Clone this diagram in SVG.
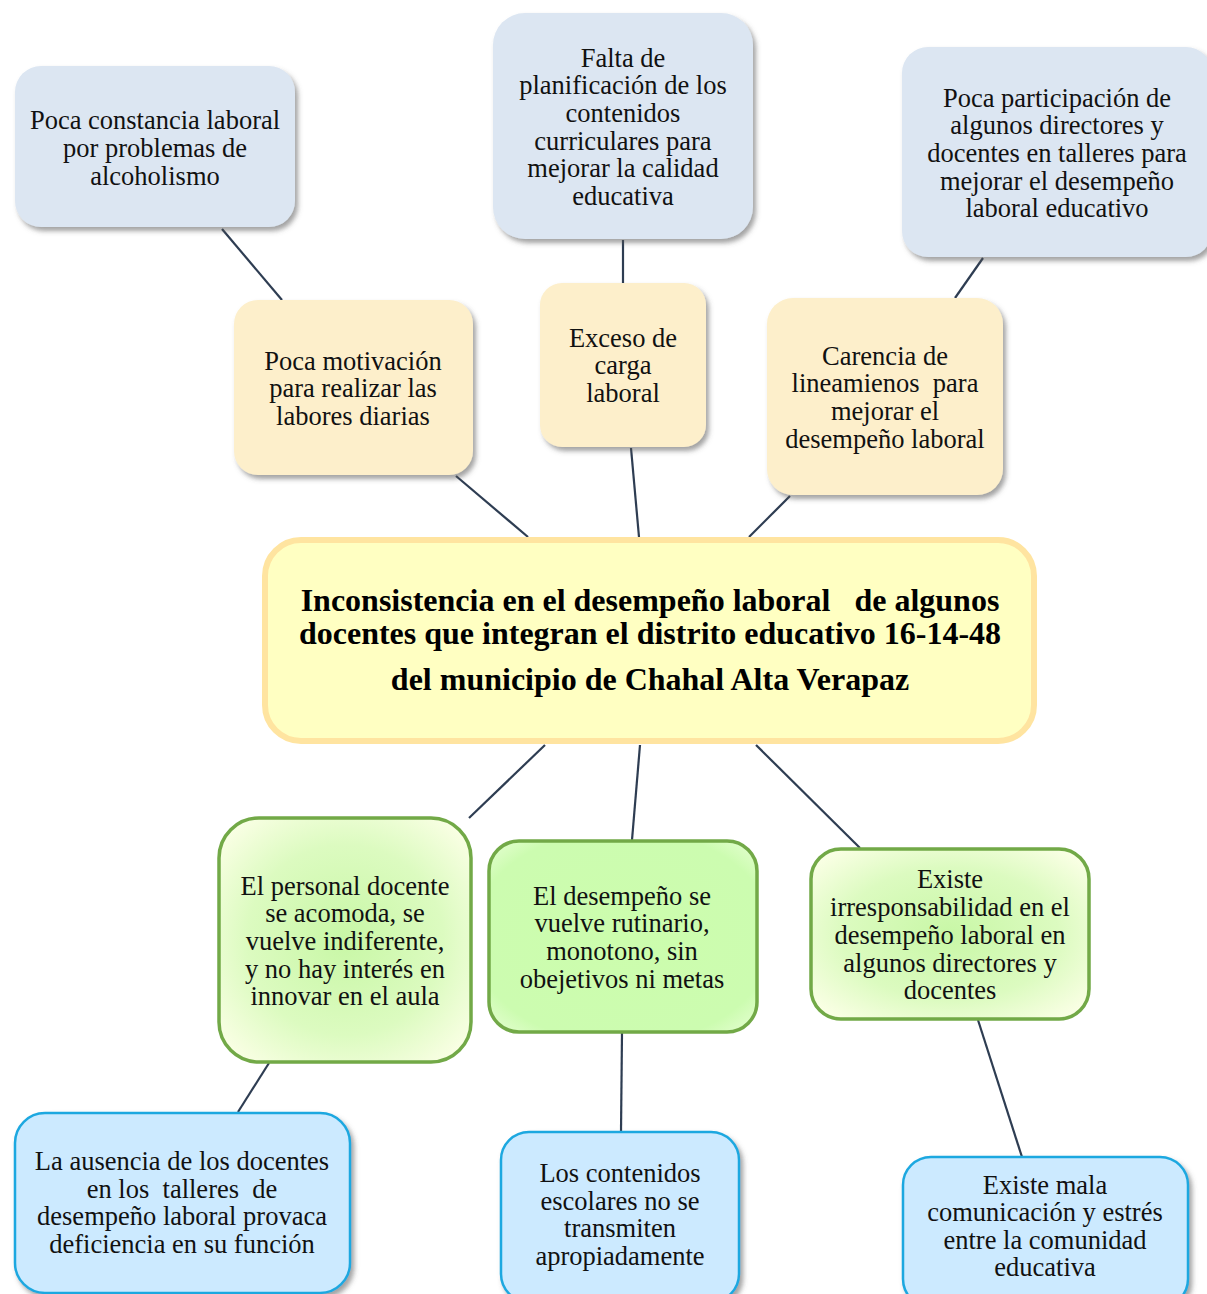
<svg xmlns="http://www.w3.org/2000/svg" width="1207" height="1294" viewBox="0 0 1207 1294" xml:space="preserve">
  <style>
    .t { font-family: "Liberation Serif", "Times New Roman", serif; font-size: 26.5px; fill: #111; text-anchor: middle; white-space: pre; }
    .title { font-family: "Liberation Serif", "Times New Roman", serif; font-size: 32px; font-weight: bold; fill: #000; text-anchor: middle; white-space: pre; }
    .cause { fill: #dce6f2; filter: url(#shadow); }
    .sub { fill: #fdefcb; filter: url(#shadow); }
    .main { fill: #ffffc2; stroke: #ffe4a0; stroke-width: 6; }
    .effect { stroke: #72a947; stroke-width: 3.5; }
    .cons { fill: #cceaff; stroke: #1fa8e0; stroke-width: 2.5; filter: url(#shadow); }
    .link { stroke: #2e3d52; stroke-width: 2.2; fill: none; }
  </style>
  <defs>
    <filter id="shadow" x="-10%" y="-10%" width="125%" height="130%">
      <feDropShadow dx="3" dy="4" stdDeviation="2.5" flood-color="#555" flood-opacity="0.55"/>
    </filter>
    <radialGradient id="greenSoft" cx="50%" cy="50%" r="65%">
      <stop offset="0" stop-color="#c8f7a6"/>
      <stop offset="0.6" stop-color="#dcfbc0"/>
      <stop offset="1" stop-color="#fbffe6"/>
    </radialGradient>
    <radialGradient id="greenSolid" cx="50%" cy="50%" r="75%">
      <stop offset="0" stop-color="#ccfdad"/>
      <stop offset="0.75" stop-color="#ccfcb0"/>
      <stop offset="1" stop-color="#f0ffe0"/>
    </radialGradient>
  </defs>

  <rect width="1207" height="1294" fill="#ffffff"/>

  <!-- connectors -->
  <g id="connectors">
    <line class="link" x1="222" y1="229" x2="282" y2="300"/>
    <line class="link" x1="623" y1="240" x2="623" y2="283"/>
    <line class="link" x1="983" y1="258" x2="955" y2="298"/>
    <line class="link" x1="456" y1="476" x2="528" y2="537"/>
    <line class="link" x1="631" y1="448" x2="639" y2="537"/>
    <line class="link" x1="790" y1="496" x2="749" y2="537"/>
    <line class="link" x1="545" y1="745" x2="469" y2="818"/>
    <line class="link" x1="640" y1="745" x2="632" y2="840"/>
    <line class="link" x1="756" y1="745" x2="860" y2="848"/>
    <line class="link" x1="269" y1="1063" x2="238" y2="1112"/>
    <line class="link" x1="622" y1="1033" x2="621" y2="1131"/>
    <line class="link" x1="978" y1="1020" x2="1022" y2="1157"/>
  </g>

  <!-- upper causes -->
  <g id="cause-alcoholismo">
    <rect class="cause" x="15" y="66" width="280" height="161" rx="26"/>
    <text class="t" x="155" y="129">Poca constancia laboral</text>
    <text class="t" x="155" y="157">por problemas de</text>
    <text class="t" x="155" y="185">alcoholismo</text>
  </g>

  <g id="cause-planificacion">
    <rect class="cause" x="493" y="13" width="260" height="226" rx="32"/>
    <text class="t" x="623" y="67">Falta de</text>
    <text class="t" x="623" y="94">planificación de los</text>
    <text class="t" x="623" y="122">contenidos</text>
    <text class="t" x="623" y="150">curriculares para</text>
    <text class="t" x="623" y="177">mejorar la calidad</text>
    <text class="t" x="623" y="205">educativa</text>
  </g>

  <g id="cause-participacion">
    <rect class="cause" x="902" y="47" width="310" height="210" rx="26"/>
    <text class="t" x="1057" y="107">Poca participación de</text>
    <text class="t" x="1057" y="134">algunos directores y</text>
    <text class="t" x="1057" y="162">docentes en talleres para</text>
    <text class="t" x="1057" y="190">mejorar el desempeño</text>
    <text class="t" x="1057" y="217">laboral educativo</text>
  </g>

  <!-- intermediate causes -->
  <g id="cause-motivacion">
    <rect class="sub" x="234" y="300" width="239" height="175" rx="24"/>
    <text class="t" x="353" y="370">Poca motivación</text>
    <text class="t" x="353" y="397">para realizar las</text>
    <text class="t" x="353" y="425">labores diarias</text>
  </g>

  <g id="cause-carga">
    <rect class="sub" x="540" y="283" width="166" height="164" rx="22"/>
    <text class="t" x="623" y="347">Exceso de</text>
    <text class="t" x="623" y="374">carga</text>
    <text class="t" x="623" y="402">laboral</text>
  </g>

  <g id="cause-lineamientos">
    <rect class="sub" x="767" y="298" width="236" height="197" rx="26"/>
    <text class="t" x="885" y="365">Carencia de</text>
    <text class="t" x="885" y="392">lineamienos  para</text>
    <text class="t" x="885" y="420">mejorar el</text>
    <text class="t" x="885" y="448">desempeño laboral</text>
  </g>

  <!-- central problem -->
  <g id="problem">
    <rect class="main" x="265" y="540" width="769" height="201" rx="36"/>
    <text class="title" x="650" y="611">Inconsistencia en el desempeño laboral   de algunos</text>
    <text class="title" x="650" y="644">docentes que integran el distrito educativo 16-14-48</text>
    <text class="title" x="650" y="690">del municipio de Chahal Alta Verapaz</text>
  </g>

  <!-- effects -->
  <g id="effect-indiferencia">
    <rect class="effect" fill="url(#greenSoft)" x="219" y="818" width="252" height="244" rx="40"/>
    <text class="t" x="345" y="895">El personal docente</text>
    <text class="t" x="345" y="922">se acomoda, se</text>
    <text class="t" x="345" y="950">vuelve indiferente,</text>
    <text class="t" x="345" y="978">y no hay interés en</text>
    <text class="t" x="345" y="1005">innovar en el aula</text>
  </g>

  <g id="effect-rutina">
    <rect class="effect" fill="url(#greenSolid)" x="489" y="841" width="268" height="191" rx="30"/>
    <text class="t" x="622" y="905">El desempeño se</text>
    <text class="t" x="622" y="932">vuelve rutinario,</text>
    <text class="t" x="622" y="960">monotono, sin</text>
    <text class="t" x="622" y="988">obejetivos ni metas</text>
  </g>

  <g id="effect-irresponsabilidad">
    <rect class="effect" fill="url(#greenSoft)" x="811" y="849" width="278" height="170" rx="30"/>
    <text class="t" x="950" y="888">Existe</text>
    <text class="t" x="950" y="916">irresponsabilidad en el</text>
    <text class="t" x="950" y="944">desempeño laboral en</text>
    <text class="t" x="950" y="972">algunos directores y</text>
    <text class="t" x="950" y="999">docentes</text>
  </g>

  <!-- consequences -->
  <g id="cons-ausencia">
    <rect class="cons" x="15" y="1113" width="335" height="180" rx="30"/>
    <text class="t" x="182" y="1170">La ausencia de los docentes</text>
    <text class="t" x="182" y="1198">en los  talleres  de</text>
    <text class="t" x="182" y="1225">desempeño laboral provaca</text>
    <text class="t" x="182" y="1253">deficiencia en su función</text>
  </g>

  <g id="cons-contenidos">
    <rect class="cons" x="501" y="1132" width="238" height="170" rx="28"/>
    <text class="t" x="620" y="1182">Los contenidos</text>
    <text class="t" x="620" y="1210">escolares no se</text>
    <text class="t" x="620" y="1237">transmiten</text>
    <text class="t" x="620" y="1265">apropiadamente</text>
  </g>

  <g id="cons-comunicacion">
    <rect class="cons" x="903" y="1157" width="285" height="150" rx="28"/>
    <text class="t" x="1045" y="1194">Existe mala</text>
    <text class="t" x="1045" y="1221">comunicación y estrés</text>
    <text class="t" x="1045" y="1249">entre la comunidad</text>
    <text class="t" x="1045" y="1276">educativa</text>
  </g>
</svg>
